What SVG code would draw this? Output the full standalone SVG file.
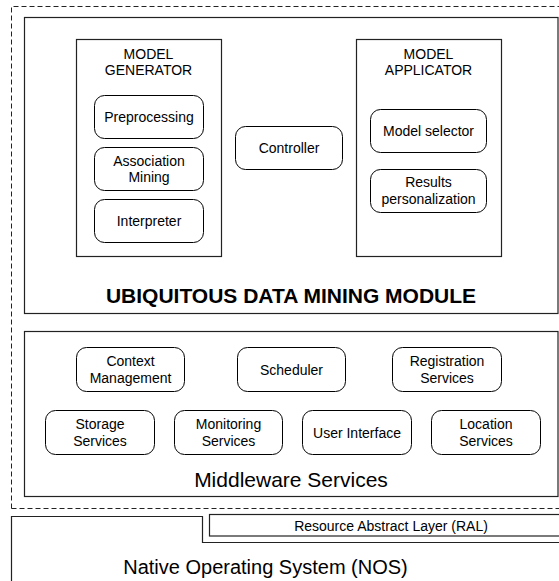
<svg xmlns="http://www.w3.org/2000/svg" width="559" height="581" viewBox="0 0 559 581">
<style>
text{font-family:"Liberation Sans",Arial,Helvetica,sans-serif;fill:#000;text-anchor:middle}
.n{font-size:14px}
.big{font-size:21px}
.cont{fill:#fff;stroke:#222;stroke-width:1.2}
.node{fill:#fff;stroke:#000;stroke-width:1}
.dash{fill:none;stroke:#222;stroke-width:1;stroke-dasharray:5 3}
</style>
<rect width="559" height="581" fill="#fff"/>
<g id="outer-dashed"><path class="dash" d="M11.5,508.5 V6.5 H565 M11.5,508.5 H565"/></g>
<g id="udm-module">
<rect class="cont" x="24.5" y="17.5" width="533.5" height="296"/>
<text class="big" x="291" y="303" font-weight="bold">UBIQUITOUS DATA MINING MODULE</text>
</g>
<g id="model-generator">
<rect class="cont" x="76.5" y="39.5" width="145" height="217"/>
<text class="n" x="148.5" y="58.5">MODEL</text>
<text class="n" x="148.5" y="75">GENERATOR</text>
</g>
<g id="preprocessing"><rect class="node" x="94.5" y="95.5" width="109" height="43" rx="10"/><text class="n" x="149" y="121.5">Preprocessing</text></g>
<g id="association-mining"><rect class="node" x="94.5" y="147.5" width="109" height="43" rx="10"/><text class="n" x="149" y="165.5">Association</text><text class="n" x="149" y="181.5">Mining</text></g>
<g id="interpreter"><rect class="node" x="94.5" y="199.5" width="109" height="43" rx="10"/><text class="n" x="149" y="225.5">Interpreter</text></g>
<g id="controller"><rect class="node" x="235.5" y="126.5" width="107" height="43" rx="10"/><text class="n" x="289" y="153">Controller</text></g>
<g id="model-applicator">
<rect class="cont" x="356.5" y="39.5" width="145" height="217"/>
<text class="n" x="428.5" y="58.5">MODEL</text>
<text class="n" x="428.5" y="75">APPLICATOR</text>
</g>
<g id="model-selector"><rect class="node" x="370.5" y="109.5" width="116" height="43" rx="10"/><text class="n" x="428.5" y="136">Model selector</text></g>
<g id="results-personalization"><rect class="node" x="370.5" y="169.5" width="116" height="43" rx="10"/><text class="n" x="428.5" y="187">Results</text><text class="n" x="428.5" y="203.5">personalization</text></g>
<g id="middleware">
<rect class="cont" x="24.5" y="331.5" width="533.5" height="165"/>
<text class="big" x="291" y="487">Middleware Services</text>
</g>
<g id="context-management"><rect class="node" x="76.5" y="347.5" width="108" height="44" rx="10"/><text class="n" x="130.5" y="366">Context</text><text class="n" x="130.5" y="382.5">Management</text></g>
<g id="scheduler"><rect class="node" x="237.5" y="347.5" width="108" height="44" rx="10"/><text class="n" x="291.5" y="374.5">Scheduler</text></g>
<g id="registration-services"><rect class="node" x="392.5" y="347.5" width="109" height="44" rx="10"/><text class="n" x="447" y="366">Registration</text><text class="n" x="447" y="382.5">Services</text></g>
<g id="storage-services"><rect class="node" x="45.5" y="410.5" width="109" height="44" rx="10"/><text class="n" x="100" y="429">Storage</text><text class="n" x="100" y="445.5">Services</text></g>
<g id="monitoring-services"><rect class="node" x="174.5" y="410.5" width="108" height="44" rx="10"/><text class="n" x="228.5" y="429">Monitoring</text><text class="n" x="228.5" y="445.5">Services</text></g>
<g id="user-interface"><rect class="node" x="302.5" y="410.5" width="109" height="44" rx="10"/><text class="n" x="357" y="437.5">User Interface</text></g>
<g id="location-services"><rect class="node" x="431.5" y="410.5" width="109" height="44" rx="10"/><text class="n" x="486" y="429">Location</text><text class="n" x="486" y="445.5">Services</text></g>
<g id="ral"><rect class="cont" x="209.5" y="514.5" width="360" height="21.5"/><text class="n" x="391" y="530.5">Resource Abstract Layer (RAL)</text></g>
<g id="nos"><path fill="none" stroke="#222" stroke-width="1.2" d="M11.5,582 V516.5 H202.5 V542.5 H565"/><text x="265.5" y="574" font-size="20">Native Operating System (NOS)</text></g>
<g id="connectors"></g>
</svg>
